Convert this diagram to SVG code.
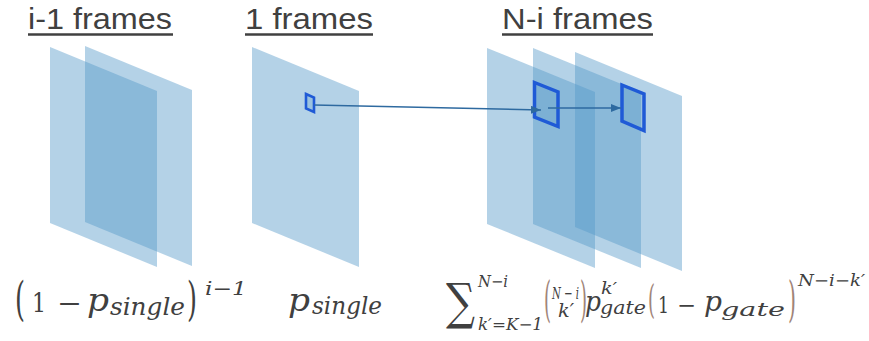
<svg xmlns="http://www.w3.org/2000/svg" width="869" height="341" viewBox="0 0 869 341">
<style>
.plane{fill:#5599c8;fill-opacity:0.44;stroke:none}
.title{font-family:"Liberation Sans",Arial,sans-serif;font-size:30px;fill:#404040}
.ul{stroke:#404040;stroke-width:2.5}
.m{font-family:"DejaVu Serif","Liberation Serif",serif;fill:#404040}
.i{font-style:italic}
.br{fill:#a08478}
.conn{stroke:#2e6aa0;stroke-width:1.6;fill:none}
.sq{fill:#5599c8;fill-opacity:0.25;stroke:#1f5ad6}
</style>
<defs>
<marker id="ah" markerWidth="10" markerHeight="8" refX="10" refY="4" orient="auto" markerUnits="userSpaceOnUse">
<path d="M0,0 L10,4 L0,8 Z" fill="#2e6aa0"/>
</marker>
</defs>
<g id="group-prev">
<polygon class="plane" points="50,47 157,91 157,267 50,223"/>
<polygon class="plane" points="85,46 192,90 192,266 85,222"/>
<text class="title" x="28" y="29" textLength="144" lengthAdjust="spacingAndGlyphs">i-1 frames</text>
<line class="ul" x1="28" y1="34.5" x2="173" y2="34.5"/>
</g>
<g id="group-single">
<polygon class="plane" points="252,47 359,91 359,267 252,223"/>
<polygon class="sq" stroke-width="2.6" points="306,94 314,97.5 314,112 306,108.5"/>
<text class="title" x="245" y="29" textLength="128" lengthAdjust="spacingAndGlyphs">1 frames</text>
<line class="ul" x1="245" y1="34.5" x2="373" y2="34.5"/>
</g>
<g id="group-next">
<polygon class="plane" points="487,48 595,92 595,268 487,224"/>
<polygon class="plane" points="533,48 641,92 641,268 533,224"/>
<polygon class="plane" points="575,52 682,96 682,271 575,227"/>
<polygon class="sq" stroke-width="3.5" points="534.5,82.5 558,92 558,126.5 534.5,117"/>
<polygon class="sq" stroke-width="3.5" points="622,85 644,94 644,130.5 622,121"/>
<text class="title" x="502" y="29" textLength="151" lengthAdjust="spacingAndGlyphs">N-i frames</text>
<line class="ul" x1="502" y1="34.5" x2="653" y2="34.5"/>
</g>
<g id="connectors">
<line class="conn" x1="314" y1="105" x2="541" y2="110" marker-end="url(#ah)"/>
<line class="conn" x1="548" y1="108" x2="621" y2="108" marker-end="url(#ah)"/>
</g>
<g id="formula-prev">
<text class="m" x="15" y="315" font-size="46" textLength="10" lengthAdjust="spacingAndGlyphs">(</text>
<text class="m" x="32" y="312" font-size="26" textLength="14" lengthAdjust="spacingAndGlyphs">1</text>
<text class="m" x="57" y="312" font-size="26" textLength="25" lengthAdjust="spacingAndGlyphs">−</text>
<text class="m i" x="87" y="311" font-size="32" textLength="22" lengthAdjust="spacingAndGlyphs">p</text>
<text class="m i" x="110" y="315" font-size="24" textLength="75" lengthAdjust="spacingAndGlyphs">single</text>
<text class="m" x="187" y="315" font-size="46" textLength="10" lengthAdjust="spacingAndGlyphs">)</text>
<text class="m i" x="205" y="295" font-size="19" textLength="42" lengthAdjust="spacingAndGlyphs">i−1</text>
</g>
<g id="formula-single">
<text class="m i" x="288" y="311" font-size="32" textLength="22" lengthAdjust="spacingAndGlyphs">p</text>
<text class="m i" x="312" y="314" font-size="24" textLength="70" lengthAdjust="spacingAndGlyphs">single</text>
</g>
<g id="formula-next">
<text class="m" x="446" y="319" font-size="50" textLength="29" lengthAdjust="spacingAndGlyphs">∑</text>
<text class="m i" x="478" y="287" font-size="16" textLength="30" lengthAdjust="spacingAndGlyphs">N−i</text>
<text class="m i" x="478" y="330" font-size="16" textLength="65" lengthAdjust="spacingAndGlyphs">k′=K−1</text>
<text class="m br" x="544" y="316" font-size="48" textLength="7" lengthAdjust="spacingAndGlyphs">(</text>
<text class="m i" x="552" y="299" font-size="17" textLength="27" lengthAdjust="spacingAndGlyphs">N − i</text>
<text class="m i" x="558" y="317" font-size="18" textLength="16" lengthAdjust="spacingAndGlyphs">k′</text>
<text class="m br" x="580" y="316" font-size="48" textLength="7" lengthAdjust="spacingAndGlyphs">)</text>
<text class="m i" x="585" y="311" font-size="28" textLength="16" lengthAdjust="spacingAndGlyphs">p</text>
<text class="m i" x="601" y="294" font-size="16" textLength="16" lengthAdjust="spacingAndGlyphs">k′</text>
<text class="m i" x="600" y="314" font-size="19" textLength="46" lengthAdjust="spacingAndGlyphs">gate</text>
<text class="m br" x="648" y="313" font-size="40" textLength="7" lengthAdjust="spacingAndGlyphs">(</text>
<text class="m" x="658" y="313" font-size="23" textLength="11" lengthAdjust="spacingAndGlyphs">1</text>
<text class="m" x="677" y="313" font-size="23" textLength="19" lengthAdjust="spacingAndGlyphs">−</text>
<text class="m i" x="704" y="311" font-size="28" textLength="18" lengthAdjust="spacingAndGlyphs">p</text>
<text class="m i" x="721" y="316" font-size="19" textLength="64" lengthAdjust="spacingAndGlyphs">gate</text>
<text class="m br" x="788" y="316" font-size="48" textLength="8" lengthAdjust="spacingAndGlyphs">)</text>
<text class="m i" x="798" y="286" font-size="16" textLength="67" lengthAdjust="spacingAndGlyphs">N−i−k′</text>
</g>
</svg>
